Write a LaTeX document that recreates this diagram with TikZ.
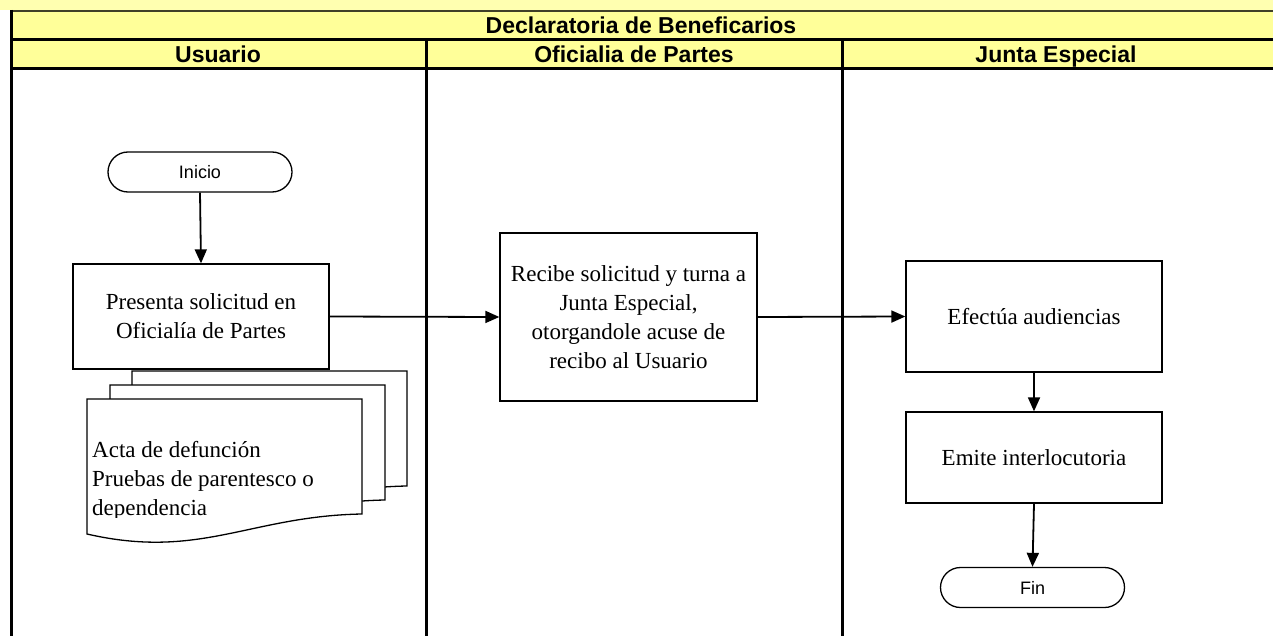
\documentclass[tikz,border=0pt]{standalone}
\usepackage{fontspec}
\setmainfont{Liberation Serif}
\newfontfamily\arialfont{Liberation Sans}
\usetikzlibrary{arrows.meta}
\definecolor{hdryellow}{HTML}{FFFF99}
\definecolor{topband}{HTML}{FFFFB0}
\definecolor{olive}{HTML}{404028}
\tikzset{
  lane/.style={line width=3pt, draw=black},
  procbox/.style={draw=black, line width=1.3pt, fill=white, align=center,
    font=\fontsize{23}{29}\selectfont},
  termbox/.style={draw=black, line width=1.3pt, fill=white, rounded corners=20pt,
    minimum width=184pt, minimum height=40pt, font=\arialfont\fontsize{18}{21}\selectfont},
  flow/.style={line width=1.8pt, -{Triangle[length=14pt,width=12pt]}},
  hdr/.style={anchor=base, inner sep=0pt, font=\arialfont\bfseries\fontsize{23}{26}\selectfont},
  docline/.style={draw=black, line width=1.3pt, fill=white},
}
\newcommand\docpath[2]{\filldraw[docline,shift={(#1,#2)}] (87,399) -- (362,399) -- (362,514) .. controls (250,516) and (200,560) .. (87,534) -- cycle;}
\begin{document}
\begin{tikzpicture}[x=1pt,y=-1pt]
\useasboundingbox (0,0) rectangle (1273,636);
% top band and header fills
\fill[topband] (0,0) rectangle (1273,10);
\fill[hdryellow] (10,11) rectangle (1273,69);
\draw[olive,line width=2pt] (10,11) -- (1273,11);
% table lines
\draw[lane] (10,40) -- (1273,40);
\draw[lane] (10,69) -- (1273,69);
\draw[lane] (11.5,10) -- (11.5,636);
\draw[lane] (426,40) -- (426,636);
\draw[lane] (842,40) -- (842,636);
% header texts
\node[hdr] (title) at (641,34) {Declaratoria de Beneficarios};
\node[hdr] (h1) at (218,63) {Usuario};
\node[hdr] (h2) at (634,63) {Oficialia de Partes};
\node[hdr] (h3) at (1056,63) {Junta Especial};
% documents stack
\docpath{45}{-28}
\docpath{23}{-14}
\docpath{0}{0}
\begin{scope}
\clip (87,399) rectangle (362,517);
\node[anchor=base west, align=left, inner sep=0pt,
  font=\fontsize{23}{29}\selectfont] (docs) at (92,515)
  {Acta de defunción\\Pruebas de parentesco o\\dependencia};
\end{scope}
% nodes
\node[termbox] (inicio) at (200,172) {Inicio};
\node[procbox, minimum width=256pt, minimum height=105pt] (presenta) at (201,316.5)
  {Presenta solicitud en\\Oficialía de Partes};
\node[procbox, minimum width=257pt, minimum height=168pt] (recibe) at (628.5,317)
  {Recibe solicitud y turna a\\Junta Especial,\\otorgandole acuse de\\recibo al Usuario};
\node[procbox, minimum width=256pt, minimum height=111pt] (efectua) at (1034,316.5)
  {Efectúa audiencias};
\node[procbox, minimum width=256pt, minimum height=91pt] (emite) at (1034,457.5)
  {Emite interlocutoria};
\node[termbox] (fin) at (1032.5,587.5) {Fin};
% connectors
\draw[flow] (inicio.south) -- (presenta.north);
\draw[flow] (presenta.east) -- (recibe.west);
\draw[flow] (recibe.east) -- (efectua.west);
\draw[flow] (efectua.south) -- (emite.north);
\draw[flow] (emite.south) -- (fin.north);
\end{tikzpicture}
\end{document}
